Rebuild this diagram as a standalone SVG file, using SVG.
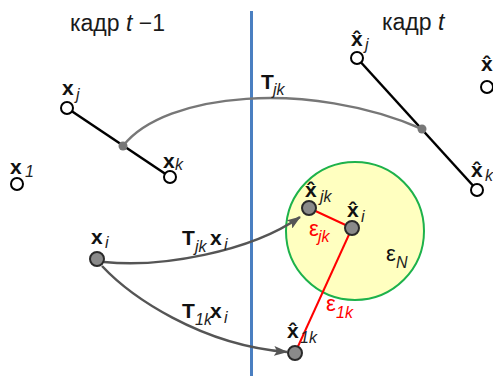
<svg xmlns="http://www.w3.org/2000/svg" width="493" height="376" viewBox="0 0 493 376">
<style>
text{font-family:"Liberation Sans",Arial,sans-serif;}
.t{font-size:23px;fill:#1a1a1a}
.b{font-size:21px;font-weight:bold;fill:#111}
.s{font-size:16px;font-style:italic;fill:#222}
.sr{font-size:16px;font-style:italic;fill:#ff0000}
.er{font-size:22px;fill:#ff0000}
.ek{font-size:22px;fill:#111}
.open{fill:#fff;stroke:#000;stroke-width:2}
.fill{fill:#8a8a8a;stroke:#2a2a2a;stroke-width:2}
.mid{fill:#777}
.seg{stroke:#000;stroke-width:2.5;fill:none}
.red{stroke:#ff0000;stroke-width:2;fill:none}
.arc{stroke:#777;stroke-width:2.5;fill:none}
.arr{stroke:#555;stroke-width:2.5;fill:none;marker-end:url(#ah)}
</style>
<defs>
<marker id="ah" markerUnits="userSpaceOnUse" markerWidth="14" markerHeight="10" refX="13" refY="5" orient="auto">
<path d="M0,0 L14,5 L0,10 L3,5 Z" fill="#555"/>
</marker>
</defs>
<rect width="493" height="376" fill="#fff"/>
<g id="titles">
<text class="t" x="70" y="31">кадр <tspan font-style="italic">t</tspan> −1</text>
<text class="t" x="382" y="30">кадр <tspan font-style="italic">t</tspan></text>
</g>
<g id="divider"><line x1="251.5" y1="11" x2="251.5" y2="376" stroke="#4a7fc1" stroke-width="3"/></g>
<g id="error-circle"><circle cx="355" cy="231" r="69" fill="#ffffc0" stroke="#1db24b" stroke-width="2"/></g>
<g id="connectors">
<line class="seg" x1="67" y1="108" x2="170" y2="177"/>
<line class="seg" x1="357" y1="58" x2="477" y2="190"/>
<path class="arc" d="M123,146 C165,92 310,80 422,129"/>
<path class="arr" d="M104,262 C160,268 250,252 300,217"/>
<path class="arr" d="M102,266 C130,296 200,345 287,352"/>
<line class="red" x1="309" y1="208" x2="352" y2="228"/>
<line class="red" x1="352" y1="228" x2="295" y2="353"/>
</g>
<g id="node-xj"><circle class="open" cx="67" cy="108" r="6"/><text class="b" x="62" y="95">x</text><text class="s" x="76" y="100">j</text></g>
<g id="node-xk"><circle class="open" cx="170" cy="177" r="6"/><text class="b" x="163" y="168">x</text><text class="s" x="175" y="170">k</text></g>
<g id="mid-left"><circle class="mid" cx="123" cy="146" r="4.5"/></g>
<g id="node-x1"><circle class="open" cx="17" cy="184" r="6"/><text class="b" x="10" y="174">x</text><text class="s" x="25" y="177">1</text></g>
<g id="node-hxj"><circle class="open" cx="357" cy="58" r="6"/><text class="b" x="351" y="46">x̂</text><text class="s" x="365" y="50">j</text></g>
<g id="node-hxk"><circle class="open" cx="477" cy="190" r="6"/><text class="b" x="471" y="177">x̂</text><text class="s" x="485" y="181">k</text></g>
<g id="mid-right"><circle class="mid" cx="422" cy="129" r="4.5"/></g>
<g id="node-hx"><circle class="open" cx="487" cy="87" r="6"/><text class="b" x="481" y="71">x̂</text></g>
<g id="label-Tjk"><text class="b" x="261" y="89">T</text><text class="s" x="273" y="95">jk</text></g>
<g id="node-xi"><circle class="fill" cx="97" cy="259" r="7"/><text class="b" x="91" y="244">x</text><text class="s" x="105" y="248">i</text></g>
<g id="label-Tjkxi"><text class="b" x="182" y="245">T</text><text class="s" x="195" y="252">jk</text><text class="b" x="210" y="245">x</text><text class="s" x="224" y="250">i</text></g>
<g id="label-T1kxi"><text class="b" x="182" y="318">T</text><text class="s" x="195" y="325">1k</text><text class="b" x="210" y="318">x</text><text class="s" x="224" y="323">i</text></g>
<g id="node-hxjk"><circle class="fill" cx="309" cy="208" r="7"/><text class="b" x="305" y="197">x̂</text><text class="s" x="320" y="202">jk</text></g>
<g id="node-hxi"><circle class="fill" cx="352" cy="228" r="7"/><text class="b" x="347" y="217">x̂</text><text class="s" x="361" y="222">i</text></g>
<g id="node-hx1k"><circle class="fill" cx="295" cy="353" r="7"/><text class="b" x="287" y="338">x̂</text><text class="s" x="300" y="343">1k</text></g>
<g id="labels-eps">
<text class="er" x="309" y="236">ε</text><text class="sr" x="318" y="242">jk</text>
<text class="er" x="326" y="311">ε</text><text class="sr" x="336" y="318">1k</text>
<text class="ek" x="386" y="261">ε</text><text class="s" x="396" y="268">N</text>
</g>
</svg>
